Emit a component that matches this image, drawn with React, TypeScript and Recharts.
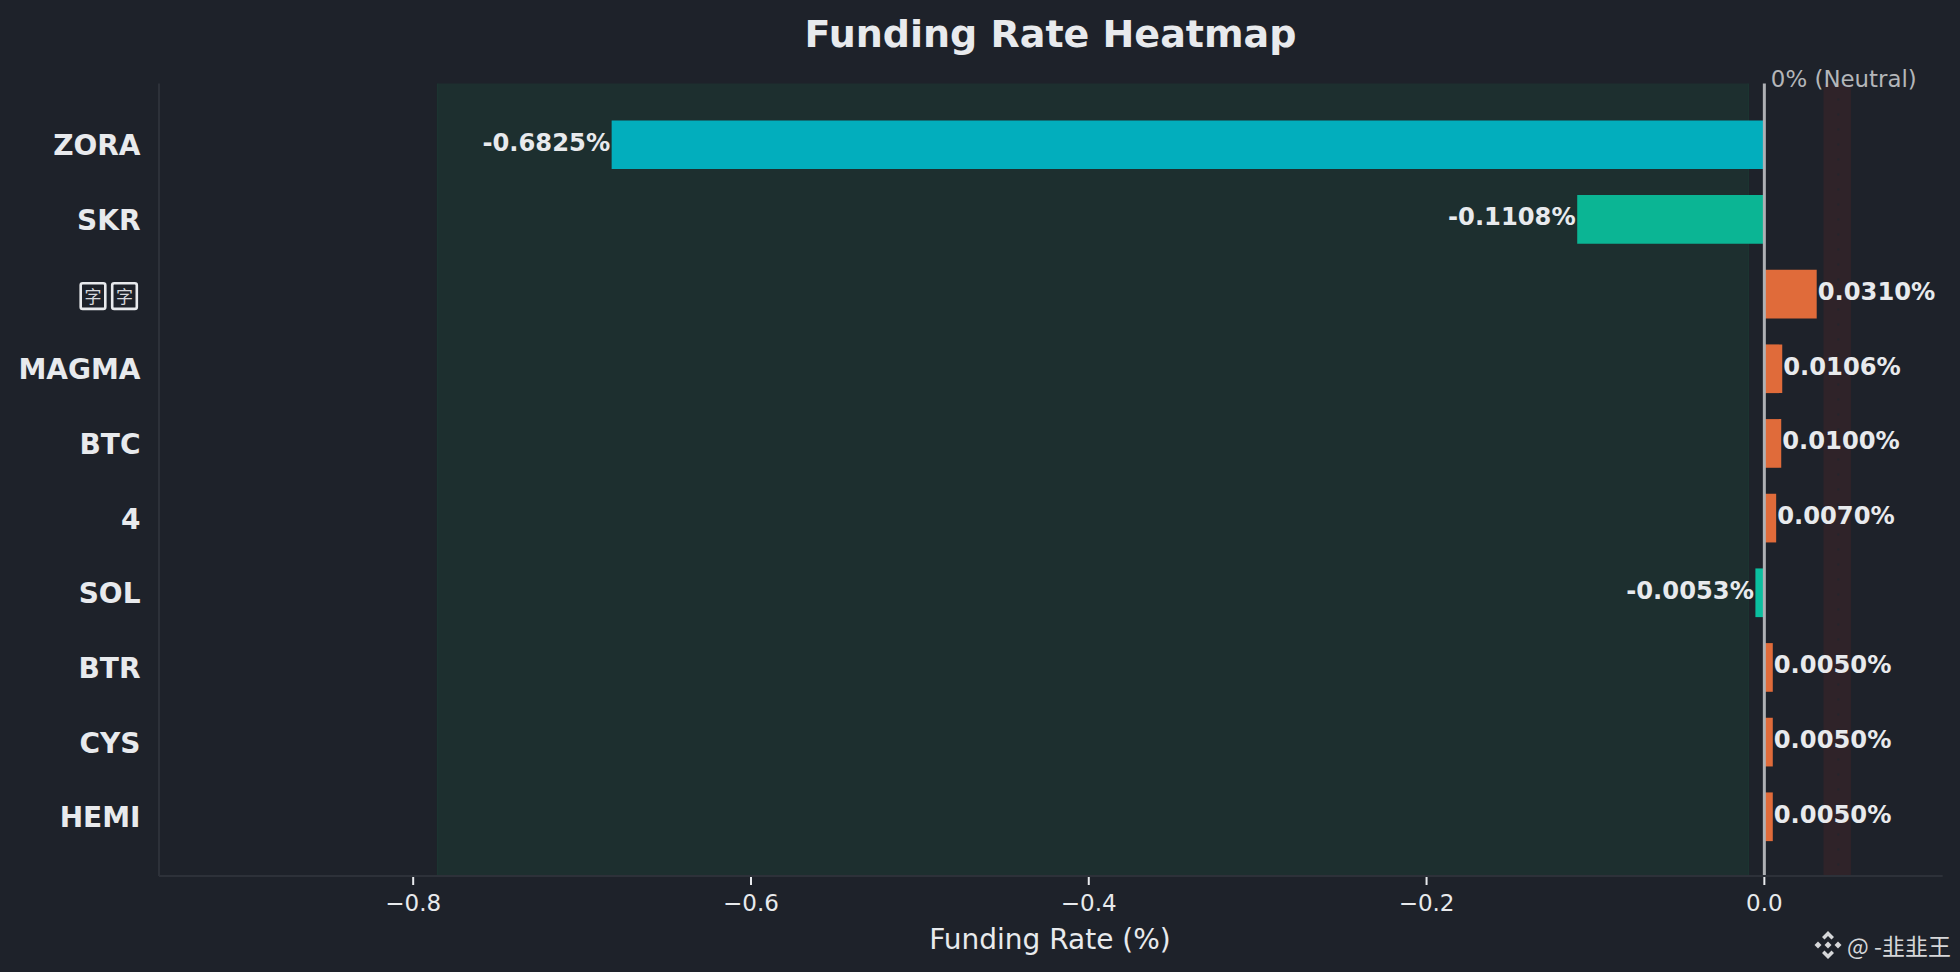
import React from 'react';
import {
  BarChart,
  Bar,
  Cell,
  XAxis,
  YAxis,
  ReferenceArea,
  ReferenceLine,
  LabelList,
} from 'recharts';

const symbols = ['ZORA', 'SKR', '字字', 'MAGMA', 'BTC', '4', 'SOL', 'BTR', 'CYS', 'HEMI'];
const rates = [-0.6825, -0.1108, 0.031, 0.0106, 0.01, 0.007, -0.0053, 0.005, 0.005, 0.005];
const barColors = [
  '#02aebd', '#0bb594', '#e06b3a', '#e06b3a', '#e06b3a',
  '#e06b3a', '#0bbf9f', '#e06b3a', '#e06b3a', '#e06b3a',
];
const xTicks = [-0.8, -0.6, -0.4, -0.2, 0];
const xDomain = [-0.9505, 0.1056];
const greenBand = [-0.7855, -0.0095];
const redBand = [0.035, 0.0513];

const chartData = symbols.map((name, i) => ({ name, rate: rates[i] }));

const FONT = '"DejaVu Sans", sans-serif';
const BG = '#1e222a';
const SPINE = '#2d3139';
const TEXT = '#e8eaed';
const PLOT_TOP = 83.5;
const PLOT_BOTTOM = 875.5;

const YTick = (props: any) => {
  const { x, y, payload } = props;
  const label: string = payload.value;
  if (label === '字字') {
    // missing-glyph boxes in the original picture
    return (
      <g>
        {[0, 1].map((i) => (
          <g key={i} transform={`translate(${79.5 + i * 31.5},${y - 12})`}>
            <rect x={1.2} y={1.2} width={24.6} height={25.6} rx={2} fill="none" stroke="#e8eaed" strokeWidth={2.6} />
            <text x={13.5} y={20.5} textAnchor="middle" fontSize={17} fill="#d8dade" fontFamily='"Noto Sans CJK SC"'>
              {label[i]}
            </text>
          </g>
        ))}
      </g>
    );
  }
  return (
    <text x={x - 10.5} y={y + 10.5} textAnchor="end" fontSize={28} fontWeight="bold" fill={TEXT} fontFamily={FONT}>
      {label}
    </text>
  );
};

const XTick = (props: any) => {
  const { x, y, payload } = props;
  const label = payload.value.toFixed(1).replace('-', '\u2212');
  return (
    <g>
      <line x1={x} x2={x} y1={y + 1} y2={y + 9} stroke={TEXT} strokeWidth={2} />
      <text x={x} y={y + 35} textAnchor="middle" fontSize={23} fill={TEXT} fontFamily={FONT}>
        {label}
      </text>
    </g>
  );
};

const ValueLabel = (props: any) => {
  const { x, y, width, height, value } = props;
  const end = x + width;
  const negative = value < 0;
  return (
    <text
      x={negative ? end - 1.5 : end + 1}
      y={y + height / 2 + 6}
      textAnchor={negative ? 'end' : 'start'}
      fontSize={24.2}
      fontWeight="bold"
      fill={TEXT}
      fontFamily={FONT}
    >
      {value.toFixed(4)}%
    </text>
  );
};

// bands run over the whole plot height, not only the padded category range
const GreenBand = (props: any) => {
  const { x, width, fill } = props;
  return (
    <g>
      <rect x={x} y={PLOT_TOP} width={width} height={PLOT_BOTTOM - PLOT_TOP} fill={fill} />
      <line x1={x} x2={x} y1={PLOT_TOP} y2={PLOT_BOTTOM} stroke="#1c3431" strokeWidth={1.5} />
      <line x1={x + width} x2={x + width} y1={PLOT_TOP} y2={PLOT_BOTTOM} stroke="#1c3431" strokeWidth={1.5} />
    </g>
  );
};

const RedBand = (props: any) => {
  const { x, width, fill } = props;
  return (
    <g>
      <rect x={x} y={PLOT_TOP} width={width} height={PLOT_BOTTOM - PLOT_TOP} fill={fill} />
      <line
        x1={x + width * 0.54}
        x2={x + width * 0.54}
        y1={PLOT_TOP}
        y2={PLOT_BOTTOM}
        stroke="#25252c"
        strokeWidth={2}
        strokeDasharray="2 13"
      />
    </g>
  );
};

const App = () => (
  <div style={{ position: 'fixed', left: 0, top: 0, width: 1960, height: 972, background: BG }}>
    <BarChart
      width={1960}
      height={972}
      layout="vertical"
      data={chartData}
      margin={{ top: PLOT_TOP, right: 17.3, bottom: 0, left: 0 }}
    >
      <XAxis
        type="number"
        dataKey="rate"
        domain={xDomain}
        ticks={xTicks}
        allowDataOverflow
        height={96}
        stroke={SPINE}
        strokeWidth={2}
        tickLine={false}
        tickSize={0}
        tickMargin={0}
        tick={<XTick />}
        interval={0}
      />
      <YAxis
        type="category"
        dataKey="name"
        width={159}
        padding={{ top: 23.9, bottom: 21.9 }}
        stroke={SPINE}
        strokeWidth={2}
        tickLine={false}
        tick={<YTick />}
        interval={0}
      />
      <ReferenceArea x1={greenBand[0]} x2={greenBand[1]} fill="#1d2f2f" fillOpacity={1} stroke="none" shape={<GreenBand />} />
      <ReferenceArea x1={redBand[0]} x2={redBand[1]} fill="#2f2329" fillOpacity={1} stroke="none" shape={<RedBand />} />
      <Bar dataKey="rate" barSize={48.7} isAnimationActive={false}>
        {chartData.map((d, i) => (
          <Cell key={d.name} fill={barColors[i]} />
        ))}
        <LabelList dataKey="rate" content={<ValueLabel />} />
      </Bar>
      <ReferenceLine
        x={0}
        stroke="#aeb0b4"
        strokeWidth={3}
        label={{
          value: '0% (Neutral)',
          position: 'top',
          dx: 79.5,
          dy: 8,
          fontSize: 22.9,
          fill: '#b4b6b9',
          fontFamily: FONT,
        }}
      />
      <text x={1050.5} y={46.5} textAnchor="middle" fontSize={38} fontWeight="bold" fill={TEXT} fontFamily={FONT}>
        Funding Rate Heatmap
      </text>
      <text x={1050} y={949} textAnchor="middle" fontSize={28} fill={TEXT} fontFamily={FONT}>
        Funding Rate (%)
      </text>
      <g fill="#d6d7d9">
        <path d="M1828 931l6 6-2.5 2.5-3.5-3.5-3.5 3.5-2.5-2.5z" />
        <path d="M1828 959l6-6-2.5-2.5-3.5 3.5-3.5-3.5-2.5 2.5z" />
        <path d="M1828 941.5l3.5 3.5-3.5 3.5-3.5-3.5z" />
        <path d="M1818 941.5l3.5 3.5-3.5 3.5-3.5-3.5z" />
        <path d="M1838 941.5l3.5 3.5-3.5 3.5-3.5-3.5z" />
      </g>
      <text x={1847} y={955} fontSize={23} fill="#d6d7d9" fontFamily='"Noto Sans CJK SC"'>
        @ -韭韭王
      </text>
    </BarChart>
  </div>
);

export default App;
